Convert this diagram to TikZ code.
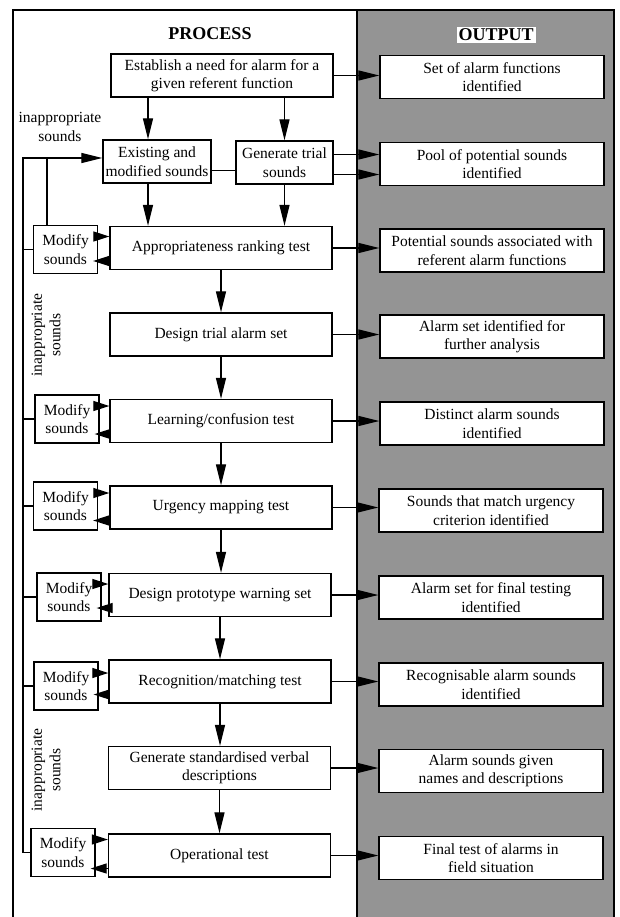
\documentclass[tikz,border=0pt]{standalone}
\usepackage{fontspec}
\setmainfont{Liberation Serif}
\usetikzlibrary{arrows.meta}

\begin{document}
\begin{tikzpicture}[x=1pt, y=-1pt,
    every node/.style={font=\fontsize{15.5}{18.5}\selectfont},
    box/.style={draw, line width=1.3pt, fill=white, align=center, minimum width=222pt, minimum height=43pt, inner sep=1pt},
    outbox/.style={box, minimum width=224pt},
    modbox/.style={box, minimum width=64pt, minimum height=48pt},
    title/.style={font=\bfseries\fontsize{18}{20}\selectfont},
    arr/.style={line width=1.2pt, -{Triangle[length=21pt,width=10pt]}},
    modarr/.style={line width=1.2pt, -{Triangle[length=16pt,width=10pt]}},
    link/.style={line width=1.2pt}]
        \useasboundingbox (0,0) rectangle (620,917);
        \fill [black!42] (357,10) rectangle (614,917);
        \draw [line width=1.3pt] (13,917) -- (13,10) -- (614,10) -- (614,917);
        \draw [line width=1.3pt] (357,10) -- (357,917);

        \node [title] (ptitle) at (210,34) {PROCESS};
        \node [title, fill=white, inner sep=2pt] (otitle) at (496,35) {OUTPUT};

        \node [box] (need) at (222,75.5) {Establish a need for alarm for a\\given referent function};
        \node [box, minimum width=108pt] (exist) at (157,161.5) {Existing and\\modified sounds};
        \node [box, minimum width=97pt] (trial) at (284.5,162.5) {Generate trial\\sounds};
        \node [box] (rank) at (221,248) {Appropriateness ranking test};
        \node [box] (design) at (221,334.5) {Design trial alarm set};
        \node [box] (learn) at (221,421) {Learning/confusion test};
        \node [box] (urgent) at (221,507.5) {Urgency mapping test};
        \node [box] (proto) at (220,595) {Design prototype warning set};
        \node [box] (recog) at (220,681.5) {Recognition/matching test};
        \node [box] (verbal) at (219.5,768) {Generate standardised verbal\\descriptions};
        \node [box] (oper) at (219.5,855.5) {Operational test};

        \node [modbox] (mod1) at (65.5,249.5) {Modify\\sounds};
        \node [modbox] (mod2) at (67,419) {Modify\\sounds};
        \node [modbox] (mod3) at (65.5,506) {Modify\\sounds};
        \node [modbox] (mod4) at (69,597) {Modify\\sounds};
        \node [modbox] (mod5) at (66,686) {Modify\\sounds};
        \node [modbox] (mod6) at (63,852.5) {Modify\\sounds};

        \node [outbox] (out1) at (492,77) {Set of alarm functions\\identified};
        \node [outbox] (out2) at (492,164) {Pool of potential sounds\\identified};
        \node [outbox] (out3) at (492,250.5) {Potential sounds associated with\\referent alarm functions};
        \node [outbox] (out4) at (492,336.5) {Alarm set identified for\\further analysis};
        \node [outbox] (out5) at (492,423.5) {Distinct alarm sounds\\identified};
        \node [outbox] (out6) at (491,510.5) {Sounds that match urgency\\criterion identified};
        \node [outbox] (out7) at (491,597.5) {Alarm set for final testing\\identified};
        \node [outbox] (out8) at (491,684.5) {Recognisable alarm sounds\\identified};
        \node [outbox] (out9) at (491,771) {Alarm sounds given\\names and descriptions};
        \node [outbox] (out10) at (491,858) {Final test of alarms in\\field situation};

        \node [align=center] (inapp1) at (60,127) {inappropriate\\sounds};
        \node [align=center, rotate=90] (inapp2) at (46,335) {inappropriate\\sounds};
        \node [align=center, rotate=90] (inapp3) at (46,770) {inappropriate\\sounds};

        \coordinate (fbtop) at (23,158);
        \coordinate (fbjoin) at (47,158);
        \coordinate (colA) at (148,0);

        \draw [arr] (colA |- need.south) -- (colA |- exist.north);
        \draw [arr] (need.south -| trial) -- (trial.north);
        \draw [arr] (colA |- exist.south) -- (colA |- rank.north);
        \draw [arr] (trial.south) -- (trial.south |- rank.north);
        \draw [link] ([yshift=-8pt]trial.west) -- ([yshift=-8pt]trial.west -| exist.east);
        \foreach \a/\b in {rank/design, design/learn, learn/urgent, urgent/proto, proto/recog, recog/verbal, verbal/oper}
            \draw [arr] (\a.south) -- (\a.south |- \b.north);

        \draw [arr] (need.east) -- (need.east -| out1.west);
        \draw [arr] ([yshift=8pt]trial.east) -- ([yshift=8pt]trial.east -| out2.west);
        \draw [arr] ([yshift=-12pt]trial.east) -- ([yshift=-12pt]trial.east -| out2.west);
        \foreach \a/\b in {rank/out3, design/out4, learn/out5, urgent/out6, proto/out7, recog/out8, verbal/out9, oper/out10}
            \draw [arr] (\a.east) -- (\a.east -| \b.west);

        \foreach \m/\t in {mod1/rank, mod2/learn, mod3/urgent, mod4/proto, mod5/recog, mod6/oper} {
            \draw [modarr] ([yshift=13pt]\m.east) -- ([yshift=13pt]\m.east -| \t.west);
            \draw [modarr] ([yshift=-13pt]\t.west) -- ([yshift=-13pt,xshift=-5pt]\t.west -| \m.east);
        }

        \draw [arr] (mod6.west) -| (fbtop) -- (fbtop -| exist.west);
        \draw [link] (fbjoin) -- (fbjoin |- mod1.north);
        \foreach \m in {mod1, mod2, mod3, mod4, mod5}
            \draw [link] (\m.west) -- (\m.west -| fbtop);
      \end{tikzpicture}
\end{document}
